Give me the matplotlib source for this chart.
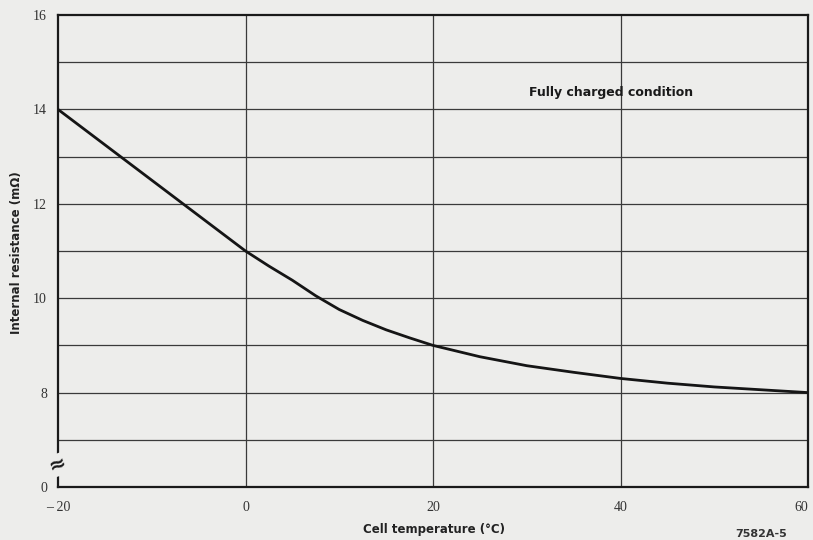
import matplotlib.pyplot as plt

# cell temperature (deg C) vs internal resistance (mOhm), fully charged
temps = [-20, -15, -10, -5, 0, 2.5, 5, 7.5, 10, 12.5, 15, 17.5, 20, 25, 30, 35, 40, 45, 50, 55, 60]
resistance = [14.0, 13.25, 12.5, 11.75, 11.0, 10.68, 10.38, 10.05, 9.76, 9.53, 9.33, 9.16, 9.0,
	8.76, 8.57, 8.43, 8.30, 8.2, 8.12, 8.06, 8.0]

x_ticks = [-20, 0, 20, 40, 60]
x_labels = ["\u2013 20", "0", "20", "40", "60"]
y_ticks = [6, 8, 10, 12, 14, 16]
y_labels = ["0", "8", "10", "12", "14", "16"]

paper = "#ededeb"

fig = plt.figure(figsize=(8.13, 5.40), dpi=100)
fig.patch.set_facecolor(paper)
ax = fig.add_axes([58 / 813, 1 - 487 / 540, 750 / 813, 472 / 540])
ax.set_facecolor(paper)

ax.set_xlim(-20, 60)
ax.set_ylim(6, 16)

# grid: every 1 mOhm horizontally, every 20 deg vertically
for v in range(7, 16):
	ax.axhline(v, color="#3a3a3a", lw=0.9, zorder=1)
for t in [0, 20, 40]:
	ax.axvline(t, color="#3a3a3a", lw=0.9, zorder=1)

ax.plot(temps, resistance, color="#151515", lw=2.0, zorder=3)

for s in ax.spines.values():
	s.set_linewidth(1.6)
	s.set_color("#1a1a1a")

ax.set_xticks(x_ticks)
ax.set_xticklabels(x_labels, family="Liberation Serif", fontsize=10, color="#333333")
ax.get_xticklabels()[-1].set_horizontalalignment("right")
ax.set_yticks(y_ticks)
ax.set_yticklabels(y_labels, family="Liberation Serif", fontsize=10, color="#333333")
ax.tick_params(length=0, pad=8)
ax.tick_params(axis="x", pad=10)

ax.set_ylabel("Internal resistance (m\u03a9)", fontsize=8.5, fontweight="bold", color="#222222")
ax.yaxis.set_label_coords(-0.047, 0.496)

fig.text(434 / 813, 1 - 530 / 540, "Cell temperature (\u00b0C)", ha="center", va="center",
	fontsize=8.5, fontweight="bold", color="#222222")

ax.text(39, 14.35, "Fully charged condition", ha="center", va="center",
	fontsize=9, fontweight="bold", color="#1a1a1a")

# axis break on the y axis
ax.text(-20, 6.47, "\u2248", ha="center", va="center", fontsize=15, fontweight="bold",
	rotation=20, color="#1a1a1a", zorder=5, clip_on=False,
	bbox=dict(boxstyle="square,pad=0.05", fc=paper, ec="none"))

fig.text(735 / 813, 0.002, "7582A-5", ha="left", va="bottom", fontsize=8,
	fontweight="bold", color="#333333")

fig.savefig("out.png", dpi=100, facecolor=paper)
